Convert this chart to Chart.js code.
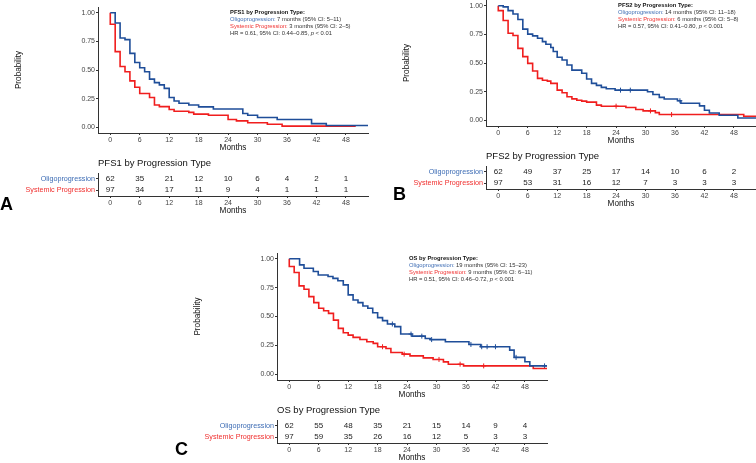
<!DOCTYPE html>
<html>
<head>
<meta charset="utf-8">
<script src="https://cdn.jsdelivr.net/npm/chart.js@4.4.1/dist/chart.umd.min.js"></script>
<style>
  html, body { margin: 0; padding: 0; background: #fff; width: 756px; height: 463px; overflow: hidden; position: relative; font-family: "Liberation Sans", Arial, sans-serif; }
  canvas { position: absolute; }
  .tag { position: absolute; font-weight: bold; font-size: 18px; line-height: 18px; color: #000; }
</style>
</head>
<body>
<canvas id="kmA"></canvas>
<canvas id="riskA"></canvas>
<canvas id="kmB"></canvas>
<canvas id="riskB"></canvas>
<canvas id="kmC"></canvas>
<canvas id="riskC"></canvas>
<div class="tag" style="left:0px;top:195px">A</div>
<div class="tag" style="left:393px;top:185px">B</div>
<div class="tag" style="left:175px;top:440px">C</div>
<script>
var xTicks = [0, 6, 12, 18, 24, 30, 36, 42, 48];
var yTicks = [0, 0.25, 0.5, 0.75, 1];
var groups = ['Oligoprogression', 'Systemic Progression'];

// PFS1
var pfs1OligoT = [0, 1, 2, 3, 4, 5, 6, 7, 8, 9, 10, 11, 12, 13, 14, 16, 18, 21, 27, 28, 30, 34, 41, 44, 52.5];
var pfs1OligoS = [1.0, 0.91, 0.78, 0.765, 0.645, 0.565, 0.52, 0.485, 0.42, 0.39, 0.37, 0.34, 0.26, 0.23, 0.21, 0.195, 0.178, 0.16, 0.12, 0.105, 0.085, 0.068, 0.032, 0.016, 0.016];
var pfs1SysT = [0, 0, 1, 2, 3, 4, 5, 6, 8, 9, 10, 12, 13, 16, 17, 20, 24, 25.7, 28, 32, 35, 50];
var pfs1SysS = [1.0, 0.9, 0.66, 0.53, 0.485, 0.405, 0.35, 0.295, 0.26, 0.195, 0.18, 0.155, 0.14, 0.13, 0.115, 0.105, 0.068, 0.056, 0.04, 0.026, 0.01, 0.01];
var pfs1OligoCens = [];
var pfs1SysCens = [];
var pfs1RiskOligo = [62, 35, 21, 12, 10, 6, 4, 2, 1];
var pfs1RiskSys = [97, 34, 17, 11, 9, 4, 1, 1, 1];

// PFS2
var pfs2OligoT = [0, 1, 2, 3, 4, 5, 6, 7, 8, 9, 9.7, 10.7, 11.2, 12, 13, 14, 15, 17, 18, 19, 20, 21, 22, 23.8, 30.4, 31.5, 32.8, 33.8, 36.5, 37.2, 41, 42, 43, 45, 48.8, 52.5];
var pfs2OligoS = [1.0, 0.99, 0.957, 0.928, 0.88, 0.796, 0.752, 0.737, 0.716, 0.687, 0.664, 0.635, 0.6, 0.55, 0.526, 0.482, 0.438, 0.41, 0.36, 0.322, 0.305, 0.287, 0.275, 0.263, 0.249, 0.225, 0.2, 0.186, 0.17, 0.149, 0.126, 0.088, 0.064, 0.044, 0.02, 0.02];
var pfs2SysT = [0, 0, 1, 2, 3, 4, 5, 6, 7, 8, 9, 10, 10.7, 12, 13, 14, 15, 16, 17, 18, 20, 21, 26, 28, 29.5, 32, 32.8, 50, 52.5];
var pfs2SysS = [1.0, 0.957, 0.871, 0.76, 0.74, 0.628, 0.556, 0.497, 0.43, 0.366, 0.35, 0.342, 0.322, 0.263, 0.24, 0.205, 0.187, 0.175, 0.167, 0.158, 0.132, 0.123, 0.111, 0.094, 0.082, 0.067, 0.05, 0.035, 0.035];
var pfs2OligoCens = [24.9, 26.9, 37.0];
var pfs2SysCens = [24.0, 31.0, 35.3];
var pfs2RiskOligo = [62, 49, 37, 25, 17, 14, 10, 6, 2];
var pfs2RiskSys = [97, 53, 31, 16, 12, 7, 3, 3, 3];

// OS
var osOligoT = [0, 2.1, 3, 4.9, 5.9, 7.9, 8.9, 9.9, 11, 12, 13, 14, 15, 16, 17, 18, 19, 20, 21.5, 22.7, 25, 27.7, 28.7, 31.8, 36.6, 39, 44.9, 45.8, 48, 49, 52.5];
var osOligoS = [1.0, 0.947, 0.918, 0.89, 0.86, 0.846, 0.83, 0.81, 0.774, 0.687, 0.643, 0.62, 0.591, 0.571, 0.533, 0.49, 0.464, 0.435, 0.412, 0.348, 0.33, 0.31, 0.30, 0.281, 0.258, 0.238, 0.209, 0.146, 0.108, 0.072, 0.072];
var osSysT = [0, 0, 1, 2, 3, 4, 5, 6, 7, 8, 9, 10, 11, 12, 13, 14.4, 15.8, 17.1, 18, 19.7, 20.7, 23, 24.6, 27.3, 29.3, 31.4, 32.4, 35.5, 49.7, 52.5];
var osSysS = [1.0, 0.933, 0.881, 0.765, 0.736, 0.672, 0.62, 0.571, 0.55, 0.527, 0.469, 0.397, 0.359, 0.339, 0.319, 0.301, 0.281, 0.267, 0.238, 0.223, 0.188, 0.174, 0.159, 0.142, 0.128, 0.107, 0.087, 0.072, 0.049, 0.049];
var osOligoCens = [21.0, 24.8, 27.0, 29.0, 37.0, 39.2, 40.3, 42.0, 46.2, 52.0];
var osSysCens = [19.0, 23.4, 30.5, 34.8, 39.6];
var osRiskOligo = [62, 55, 48, 35, 21, 15, 14, 9, 4];
var osRiskSys = [97, 59, 35, 26, 16, 12, 5, 3, 3];

var BLUE = '#1f4e99', RED = '#f01e1e';
var BLUE_TXT = '#3e6db5', RED_TXT = '#f0302f';
var FONT = '"Liberation Sans", Arial, sans-serif';

function survAt(T, S, t) {
  var v = S[0];
  for (var i = 0; i < T.length; i++) { if (T[i] <= t) v = S[i]; }
  return v;
}

function tickMarks() {
  return { display: true, drawOnChartArea: false, drawTicks: true, tickLength: 2, color: '#333' };
}

function xAxis() {
  return {
    type: 'linear', min: -2.5, max: 52.5,
    afterBuildTicks: function(s) { s.ticks = xTicks.map(function(v) { return { value: v }; }); },
    ticks: { autoSkip: false, maxRotation: 0, padding: 1, color: '#444', font: { family: FONT, size: 7 } },
    grid: tickMarks(),
    border: { display: true, color: '#333', width: 1 },
    title: { display: true, text: 'Months', color: '#111', font: { family: FONT, size: 8.2 }, padding: { top: 0, bottom: 10 } },
    afterFit: function(s) { s.height = 30; }
  };
}

function place(canvas, left, top, w, h) {
  canvas.width = w; canvas.height = h;
  canvas.style.left = left + 'px'; canvas.style.top = top + 'px';
  canvas.style.width = w + 'px'; canvas.style.height = h + 'px';
}

function notePlugin(lines) {
  return {
    id: 'kmNote',
    afterDatasetsDraw: function(chart) {
      var ctx = chart.ctx;
      var x0 = chart.scales.x.getPixelForValue(24.4);
      var y0 = chart.scales.y.getPixelForValue(1.0);
      ctx.save();
      ctx.textBaseline = 'middle';
      ctx.textAlign = 'left';
      lines.forEach(function(parts, i) {
        var x = x0, y = y0 + i * 7;
        parts.forEach(function(p) {
          ctx.font = (p.style || '') + ' 5.8px ' + FONT;
          ctx.fillStyle = p.color || '#333';
          ctx.fillText(p.text, x, y);
          x += ctx.measureText(p.text).width;
        });
      });
      ctx.restore();
    }
  };
}

function makeKM(id, area, oT, oS, sT, sS, oC, sC, note) {
  var canvas = document.getElementById(id);
  place(canvas, area.left - 100, area.top - 10, area.right - area.left + 110, area.bottom - area.top + 40);
  var pts = function(T, S) { return T.map(function(t, i) { return { x: t, y: S[i] }; }); };
  var cens = function(C, T, S) { return C.map(function(t) { return { x: t, y: survAt(T, S, t) }; }); };
  new Chart(canvas, {
    type: 'scatter',
    data: {
      datasets: [
        { data: pts(oT, oS), showLine: true, stepped: true, borderColor: BLUE, borderWidth: 1.6, pointRadius: 0, fill: false },
        { data: pts(sT, sS), showLine: true, stepped: true, borderColor: RED, borderWidth: 1.6, pointRadius: 0, fill: false },
        { data: cens(oC, oT, oS), pointStyle: 'cross', pointRadius: 2.5, borderColor: BLUE, borderWidth: 1 },
        { data: cens(sC, sT, sS), pointStyle: 'cross', pointRadius: 2.5, borderColor: RED, borderWidth: 1 }
      ]
    },
    options: {
      responsive: false, animation: false, devicePixelRatio: 1,
      layout: { padding: { top: 10, right: 10, left: 0, bottom: 0 } },
      plugins: { legend: { display: false }, tooltip: { enabled: false } },
      scales: {
        x: xAxis(),
        y: {
          type: 'linear', min: -0.05, max: 1.05,
          afterBuildTicks: function(s) { s.ticks = yTicks.map(function(v) { return { value: v }; }); },
          ticks: { padding: 1, color: '#444', font: { family: FONT, size: 7 }, callback: function(v) { return Number(v).toFixed(2); } },
          grid: tickMarks(),
          border: { display: true, color: '#333', width: 1 },
          title: { display: true, text: 'Probability', color: '#111', font: { family: FONT, size: 8.2 }, padding: { top: 16, bottom: 0 } },
          afterFit: function(s) { s.width = 100; }
        }
      }
    },
    plugins: [notePlugin(note)]
  });
}

function riskPlugin(rows) {
  return {
    id: 'riskNums',
    afterDraw: function(chart) {
      var ctx = chart.ctx, xs = chart.scales.x, ys = chart.scales.y;
      ctx.save();
      ctx.textAlign = 'center';
      ctx.textBaseline = 'middle';
      ctx.font = '8px ' + FONT;
      ctx.fillStyle = '#222';
      rows.forEach(function(row, r) {
        row.forEach(function(n, j) {
          ctx.fillText(String(n), xs.getPixelForValue(xTicks[j]), ys.getPixelForValue(r));
        });
      });
      ctx.restore();
    }
  };
}

function makeRisk(id, area, riskO, riskS, title) {
  var canvas = document.getElementById(id);
  place(canvas, area.left - 100, area.top - 25, area.right - area.left + 110, area.bottom - area.top + 55);
  new Chart(canvas, {
    type: 'scatter',
    data: { datasets: [] },
    options: {
      responsive: false, animation: false, devicePixelRatio: 1,
      layout: { padding: { top: 0, right: 10, left: 0, bottom: 0 } },
      plugins: {
        legend: { display: false }, tooltip: { enabled: false },
        title: { display: true, text: title, align: 'start', fullSize: false, color: '#111', font: { family: FONT, size: 9.5, weight: 'normal', lineHeight: 1.2 }, padding: { top: 9.3, bottom: 4.3 } }
      },
      scales: {
        x: xAxis(),
        y: {
          type: 'category', labels: groups, offset: true,
          ticks: { autoSkip: false, padding: 1, font: { family: FONT, size: 7.2 }, color: function(c) { return c.index === 0 ? BLUE_TXT : RED_TXT; } },
          grid: tickMarks(),
          border: { display: true, color: '#333', width: 1 },
          afterFit: function(s) { s.width = 100; }
        }
      }
    },
    plugins: [riskPlugin([riskO, riskS])]
  });
}

function noteLines(head, o, s, hr, p) {
  return [
    [{ text: head, style: 'bold', color: '#111' }],
    [{ text: 'Oligoprogression:', color: BLUE_TXT }, { text: ' ' + o }],
    [{ text: 'Systemic Progression:', color: RED_TXT }, { text: ' ' + s }],
    [{ text: hr }, { text: 'p', style: 'italic' }, { text: p }]
  ];
}

makeKM('kmA', { left: 98, top: 7, right: 368, bottom: 133 },
  pfs1OligoT, pfs1OligoS, pfs1SysT, pfs1SysS, pfs1OligoCens, pfs1SysCens,
  noteLines('PFS1 by Progression Type:', '7 months (95% CI: 5\u201311)', '3 months (95% CI: 2\u20135)', 'HR = 0.61, 95% CI: 0.44\u20130.85, ', ' < 0.01'));
makeRisk('riskA', { left: 98, top: 173, right: 368, bottom: 196 }, pfs1RiskOligo, pfs1RiskSys, 'PFS1 by Progression Type');

makeKM('kmB', { left: 486, top: 0, right: 756, bottom: 126 },
  pfs2OligoT, pfs2OligoS, pfs2SysT, pfs2SysS, pfs2OligoCens, pfs2SysCens,
  noteLines('PFS2 by Progression Type:', '14 months (95% CI: 11\u201318)', '6 months (95% CI: 5\u20138)', 'HR = 0.57, 95% CI: 0.41\u20130.80, ', ' < 0.001'));
makeRisk('riskB', { left: 486, top: 166, right: 756, bottom: 189 }, pfs2RiskOligo, pfs2RiskSys, 'PFS2 by Progression Type');

makeKM('kmC', { left: 277, top: 253, right: 547, bottom: 380 },
  osOligoT, osOligoS, osSysT, osSysS, osOligoCens, osSysCens,
  noteLines('OS by Progression Type:', '19 months (95% CI: 15\u201323)', '9 months (95% CI: 6\u201311)', 'HR = 0.51, 95% CI: 0.46\u20130.72, ', ' < 0.001'));
makeRisk('riskC', { left: 277, top: 420, right: 547, bottom: 443 }, osRiskOligo, osRiskSys, 'OS by Progression Type');
</script>
</body>
</html>
